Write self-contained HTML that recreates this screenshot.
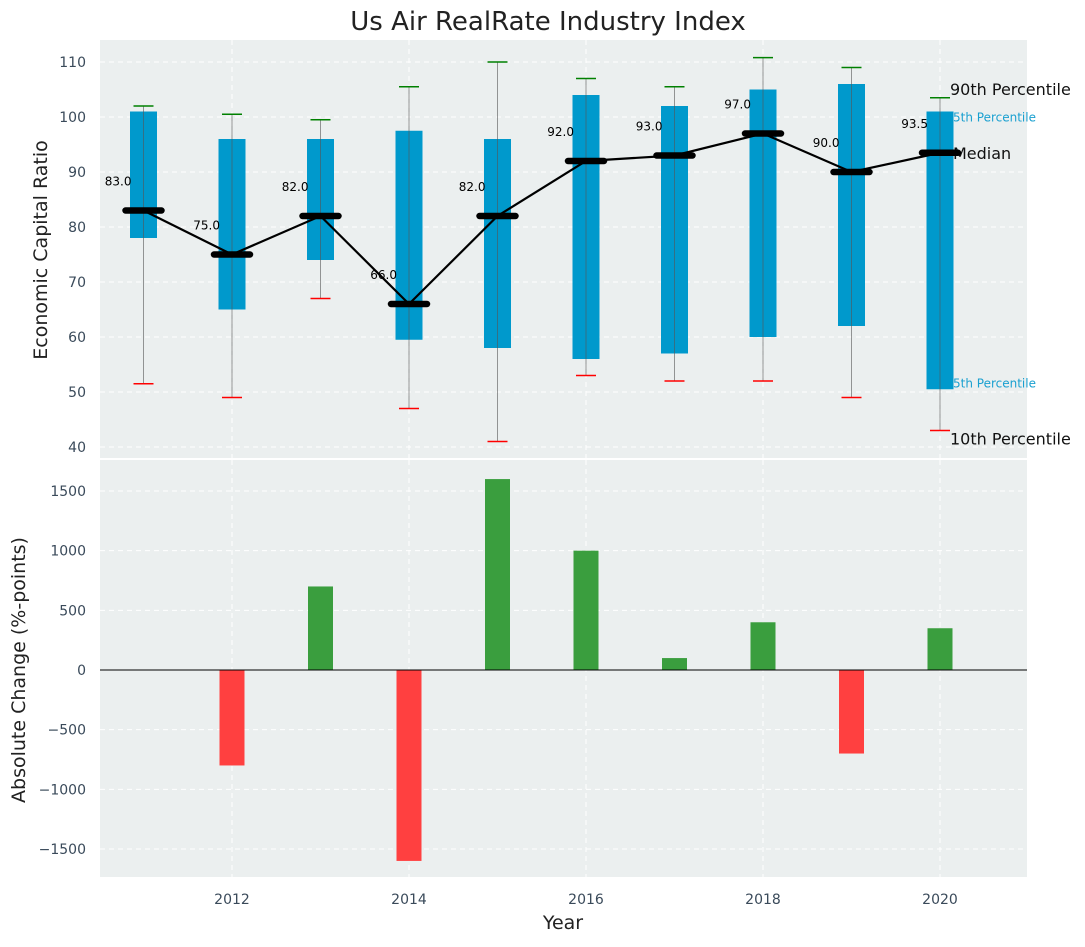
<!DOCTYPE html>
<html><head><meta charset="utf-8"><style>
body{margin:0;background:#fff;}
svg text{font-family:"DejaVu Sans","Liberation Sans",sans-serif;}
</style></head><body>
<svg id="chart" width="1085" height="942" xmlns="http://www.w3.org/2000/svg">
<text x="548" y="30" font-size="26" text-anchor="middle" fill="#222">Us Air RealRate Industry Index</text>
<rect x="100" y="40" width="927" height="418" fill="#ebefef"/>
<rect x="100" y="460" width="927" height="417" fill="#ebefef"/>
<g id="grid"></g>
<g id="top"></g>
<g id="bottom"></g>
<text transform="translate(47,250) rotate(-90)" font-size="19" text-anchor="middle" fill="#222">Economic Capital Ratio</text>
<text transform="translate(25,670) rotate(-90)" font-size="19" text-anchor="middle" fill="#222">Absolute Change (%-points)</text>
<text x="563" y="929" font-size="19" text-anchor="middle" fill="#222">Year</text>
</svg>
<script>
const years=[2011,2012,2013,2014,2015,2016,2017,2018,2019,2020];
const p10=[51.5,49,67,47,41,53,52,52,49,43];
const p25=[78,65,74,59.5,58,56,57,60,62,50.5];
const med=[83,75,82,66,82,92,93,97,90,93.5];
const p75=[101,96,96,97.5,96,104,102,105,106,101];
const p90=[102,100.5,99.5,105.5,110,107,105.5,110.8,109,103.5];
const changes=[0,-800,700,-1600,1600,1000,100,400,-700,350];
const topTicks=[40,50,60,70,80,90,100,110];
const botTicks=[-1500,-1000,-500,0,500,1000,1500];
const xTicks=[2012,2014,2016,2018,2020];
const NS="http://www.w3.org/2000/svg";
const X=v=>232+(v-2012)*88.5;
const Y=v=>62+(110-v)*5.5;
const YB=v=>670-v*0.11933;
function mk(par,tag,at,txt){const e=document.createElementNS(NS,tag);for(const k in at)e.setAttribute(k,at[k]);if(txt!=null)e.textContent=txt;document.getElementById(par).appendChild(e);return e;}
topTicks.forEach(t=>{
 let l=mk('grid','line',{x1:100,x2:1027,y1:Y(t),y2:Y(t),stroke:'#fff','stroke-dasharray':'5,4','stroke-width':1});
 
 let s=mk('grid','text',{x:86,y:Y(t)+5,'font-size':14,'text-anchor':'end',fill:'#3a4a5a'},t);
 
});
botTicks.forEach(t=>{
 let l=mk('grid','line',{x1:100,x2:1027,y1:YB(t),y2:YB(t),stroke:'#fff','stroke-dasharray':'5,4','stroke-width':1});
 
 let s=mk('grid','text',{x:86,y:YB(t)+5,'font-size':14,'text-anchor':'end',fill:'#3a4a5a'},String(t).replace('-','\u2212'));
 
});
xTicks.forEach(t=>{
 ['40','460'].forEach(y0=>{let l=mk('grid','line',{x1:X(t),x2:X(t),y1:+y0,y2:+y0+418,stroke:'#fff','stroke-dasharray':'5,4'});
 });
 let s=mk('grid','text',{x:X(t),y:904,'font-size':14,'text-anchor':'middle',fill:'#3a4a5a'},t);
 
});
const L=years.length-1,xl=X(years[L]);
let a;
a=mk('top','text',{x:xl+10,y:Y(p90[L])-3,'font-size':16,fill:'#111'},'90th Percentile');
a=mk('top','text',{x:xl+13,y:Y(p75[L])+10,'font-size':12,fill:'#1aa0d0'},'5th Percentile');
a=mk('top','text',{x:xl+13,y:Y(med[L])+6,'font-size':16,fill:'#111'},'Median');
a=mk('top','text',{x:xl+13,y:Y(p25[L])-2,'font-size':12,fill:'#1aa0d0'},'5th Percentile');
a=mk('top','text',{x:xl+10,y:Y(p10[L])+14,'font-size':16,fill:'#111'},'10th Percentile');
years.forEach((yr,i)=>{
 const x=X(yr);
 let b=mk('top','rect',{x:x-13.5,y:Y(p75[i]),width:27,height:Y(p25[i])-Y(p75[i]),fill:'#0099cc'});
 
 let w=mk('top','line',{x1:x,x2:x,y1:Y(p90[i]),y2:Y(p10[i]),stroke:'#555','stroke-opacity':0.6,'stroke-width':1});
 
 let c1=mk('top','line',{x1:x-10,x2:x+10,y1:Y(p90[i]),y2:Y(p90[i]),stroke:'green','stroke-width':1.5});
 
 let c2=mk('top','line',{x1:x-10,x2:x+10,y1:Y(p10[i]),y2:Y(p10[i]),stroke:'red','stroke-width':1.5});
 
});
let pts=years.map((yr,i)=>X(yr)+','+Y(med[i])).join(' ');
let pl=mk('top','polyline',{points:pts,fill:'none',stroke:'#000','stroke-width':2.2});

years.forEach((yr,i)=>{
 const x=X(yr);
 let m=mk('top','line',{x1:x-18,x2:x+18,y1:Y(med[i]),y2:Y(med[i]),stroke:'#000','stroke-width':6.5,'stroke-linecap':'round'});
 
 let t=mk('top','text',{x:x-12,y:Y(med[i])-25,'font-size':12,'text-anchor':'end',fill:'#000'},med[i].toFixed(1));
 
 if(changes[i]!==0){
  let r=mk('bottom','rect',{x:x-12.5,y:Math.min(YB(0),YB(changes[i])),width:25,height:Math.abs(YB(changes[i])-YB(0)),fill:changes[i]>0?'#3a9e3e':'#ff4040'});
  
 }
});
let z=mk('bottom','line',{x1:100,x2:1027,y1:YB(0),y2:YB(0),stroke:'#000','stroke-width':1});

</script>
</body></html>
